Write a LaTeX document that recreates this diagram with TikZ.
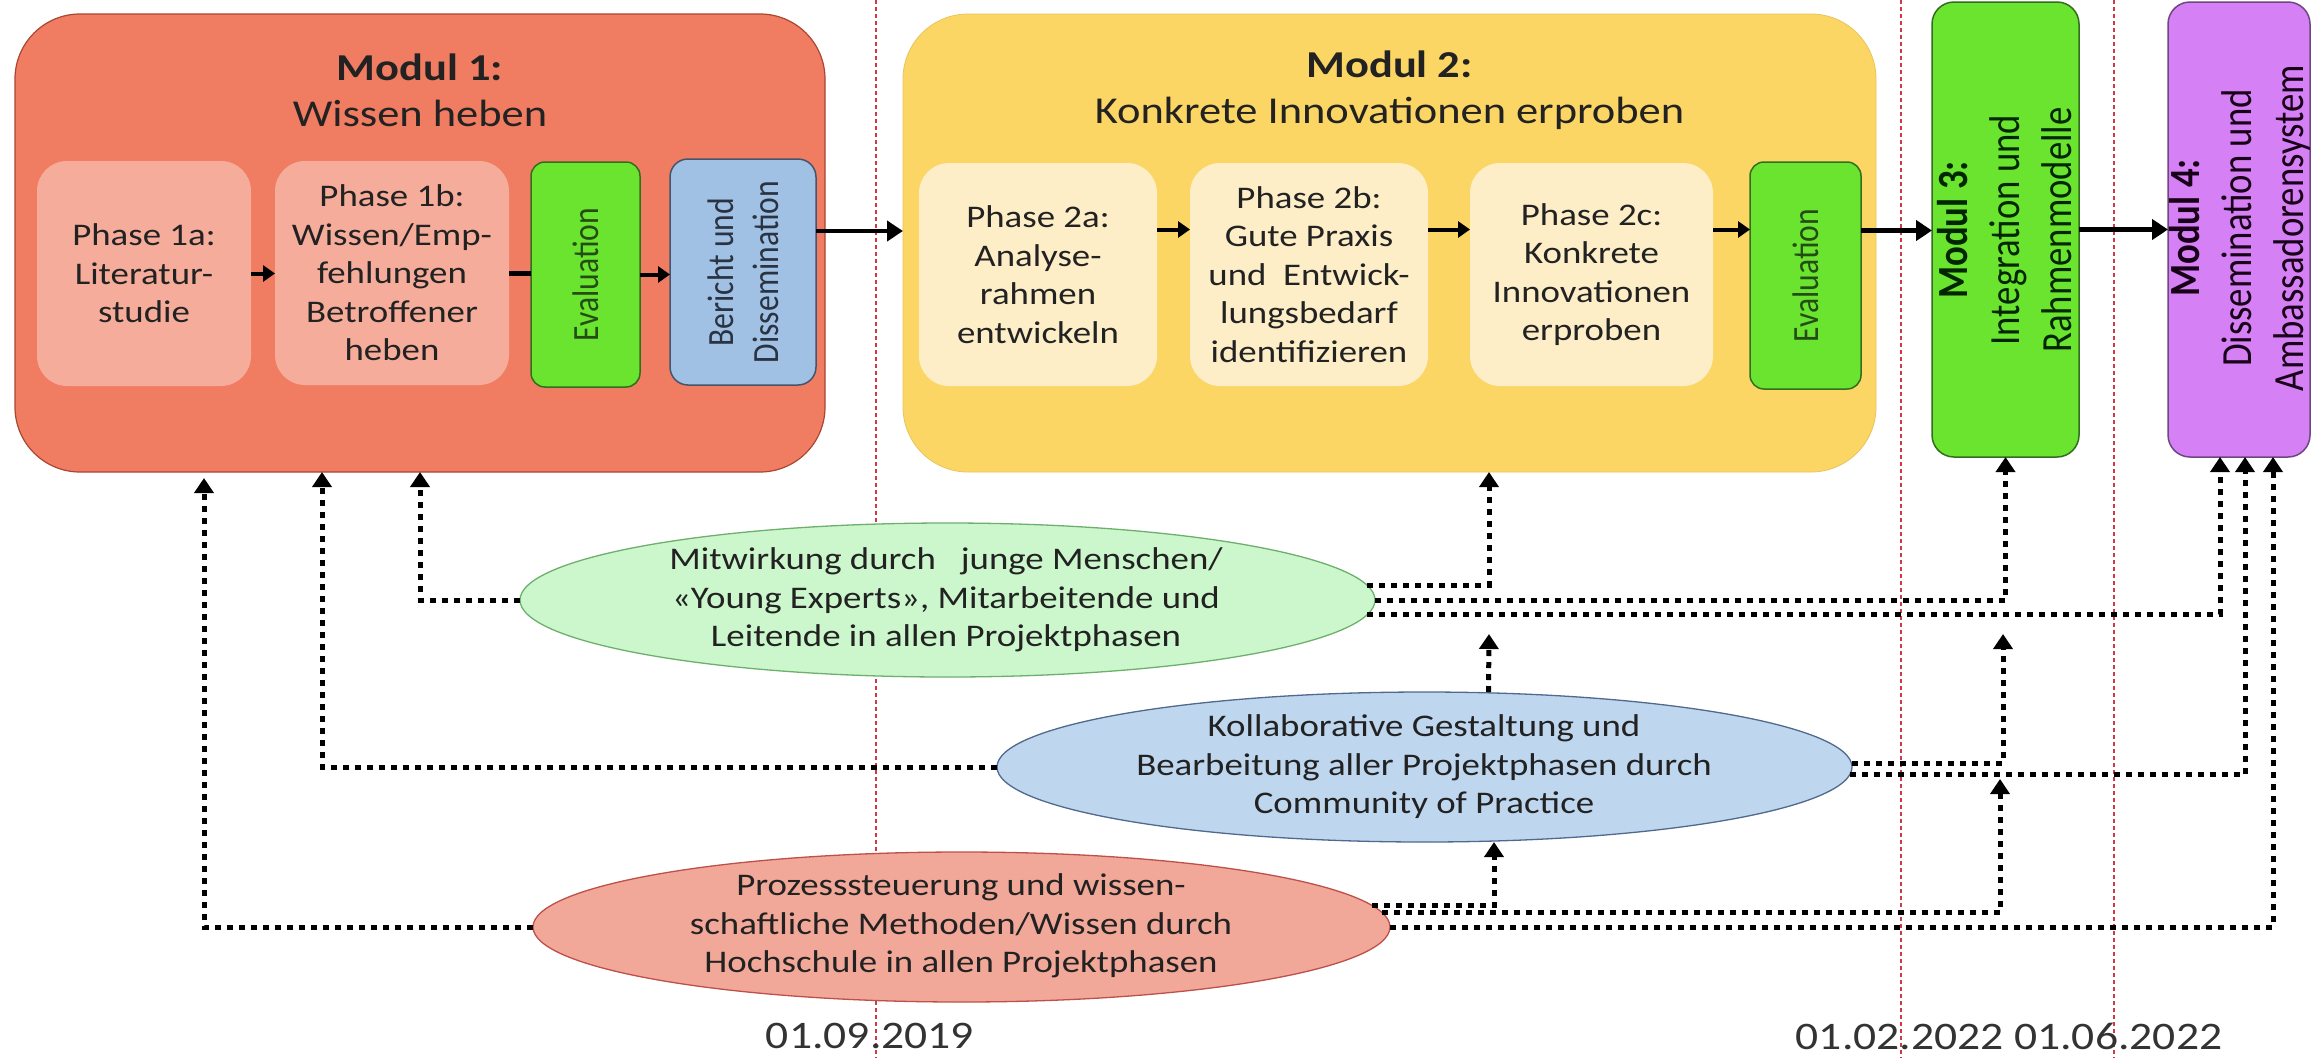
\documentclass[tikz,border=0pt]{standalone}
\usepackage{fontspec}
\setmainfont{Carlito}[FakeStretch=1.17]
\newfontfamily\rotfont{Carlito}[FakeStretch=0.855]
\usetikzlibrary{arrows.meta,shapes.geometric}
\definecolor{mfill}{RGB}{240,124,98}
\definecolor{mdraw}{RGB}{170,70,50}
\definecolor{phone}{RGB}{245,172,155}
\definecolor{evfill}{RGB}{106,228,46}
\definecolor{evdraw}{RGB}{50,110,30}
\definecolor{berfill}{RGB}{160,192,228}
\definecolor{berdraw}{RGB}{70,85,110}
\definecolor{mtwofill}{RGB}{252,214,100}
\definecolor{phtwo}{RGB}{253,238,200}
\definecolor{mfourfill}{RGB}{214,128,246}
\definecolor{mfourdraw}{RGB}{110,70,130}
\definecolor{gfill}{RGB}{204,247,204}
\definecolor{gdraw}{RGB}{110,175,110}
\definecolor{bfill}{RGB}{190,214,238}
\definecolor{bdraw}{RGB}{80,105,140}
\definecolor{rfill}{RGB}{242,168,152}
\definecolor{rdraw}{RGB}{190,80,75}
\definecolor{dline}{RGB}{205,60,70}
\definecolor{txt}{RGB}{34,34,34}
\newcommand\fphase{\fontsize{31.5pt}{38.5pt}\selectfont}
\newcommand\ftitle{\fontsize{38pt}{46pt}\selectfont}
\newcommand\fdate{\fontsize{39pt}{46pt}\selectfont}
\newcommand\frot{\rotfont\fontsize{37pt}{45pt}\selectfont}
\newcommand\frotbig{\rotfont\fontsize{43pt}{52pt}\selectfont}
\begin{document}
\begin{tikzpicture}[x=1pt,y=-1pt,
  box/.style={rectangle,inner sep=0pt,outer sep=0pt},
  ell/.style={ellipse,inner sep=0pt,outer sep=0pt,line width=1.3pt},
  tx/.style={align=center,text=txt,inner sep=0pt,font=\fphase},
  marr/.style={line width=4.5pt,-{Triangle[length=16pt,width=20pt]}},
  sarr/.style={line width=4pt,-{Triangle[length=12pt,width=16pt]}},
  dots/.style={line width=5pt,dash pattern=on 6pt off 6pt,-{Triangle[length=15pt,width=19pt]}},
  vline/.style={draw=dline,line width=1.2pt,dash pattern=on 4pt off 3pt}]
\useasboundingbox (0,0) rectangle (2312,1058);
\fill[white] (0,0) rectangle (2312,1058);
% time lines
\draw[vline] (876,0) -- (876,1058);
\draw[vline] (1901,0) -- (1901,1058);
\draw[vline] (2114,0) -- (2114,1058);
% modules
\node[box,draw=mdraw,line width=1.2pt,fill=mfill,rounded corners=65pt,minimum width=810pt,minimum height=458pt] (m1) at (420,243) {};
\node[box,draw=mtwofill!92!black,line width=0.8pt,fill=mtwofill,rounded corners=65pt,minimum width=973pt,minimum height=458pt] (m2) at (1389.5,243) {};
\node[box,draw=evdraw,line width=1.5pt,fill=evfill,rounded corners=22pt,minimum width=147pt,minimum height=455pt] (m3) at (2005.5,229.5) {};
\node[box,draw=mfourdraw,line width=1.5pt,fill=mfourfill,rounded corners=22pt,minimum width=142pt,minimum height=455pt] (m4) at (2239,229.5) {};
% titles
\node[tx,font=\ftitle] (t1) at (420,90) {\textbf{Modul 1:}\\Wissen heben};
\node[tx,font=\ftitle] (t2) at (1389.5,90) {\textbf{Modul 2:}\\Konkrete Innovationen erproben};
% module 1 phases
\node[box,fill=phone,rounded corners=30pt,minimum width=214pt,minimum height=225pt,tx] (p1a) at (144,273.5) {Phase 1a:\\Literatur-\\studie};
\node[box,fill=phone,rounded corners=30pt,minimum width=234pt,minimum height=224pt,tx] (p1b) at (392,273) {Phase 1b:\\Wissen/Emp-\\fehlungen\\Betroffener\\heben};
\node[box,draw=evdraw,line width=1.5pt,fill=evfill,rounded corners=14pt,minimum width=109pt,minimum height=225pt] (e1) at (585.5,274.5) {};
\node[tx,rotate=90,font=\frot,text=evdraw!70!black] (e1t) at (585.5,274.5) {Evaluation};
\node[box,draw=berdraw,line width=1.5pt,fill=berfill,rounded corners=18pt,minimum width=146pt,minimum height=226pt] (ber) at (743,272) {};
\node[tx,rotate=90,font=\frot,text=berdraw!60!black] (bert) at (743.5,272) {Bericht und\\Dissemination};
% module 2 phases
\node[box,fill=phtwo,rounded corners=30pt,minimum width=238pt,minimum height=223pt,tx] (p2a) at (1038,274.5) {Phase 2a:\\Analyse-\\rahmen\\entwickeln};
\node[box,fill=phtwo,rounded corners=30pt,minimum width=238pt,minimum height=223pt,tx] (p2b) at (1309,274.5) {Phase 2b:\\Gute Praxis\\und\ \ Entwick-\\lungsbedarf\\identifizieren};
\node[box,fill=phtwo,rounded corners=30pt,minimum width=243pt,minimum height=223pt,tx] (p2c) at (1591.5,274.5) {Phase 2c:\\Konkrete\\Innovationen\\erproben};
\node[box,draw=evdraw,line width=1.5pt,fill=evfill,rounded corners=14pt,minimum width=111pt,minimum height=227pt] (e2) at (1805.5,275.5) {};
\node[tx,rotate=90,font=\frot,text=evdraw!70!black] (e2t) at (1806,275.5) {Evaluation};
% module 3 and 4 texts
\node[tx,rotate=90,font=\frotbig,text=black!85!green] (m3t) at (2005,230) {\textbf{Modul 3:}\\Integration und\\Rahmenmodelle};
\node[tx,rotate=90,font=\frotbig,text=black!80!violet] (m4t) at (2240,228) {\textbf{Modul 4:}\\Dissemination und\\Ambassadorensystem};
% flow arrows
\draw[sarr] (p1a.east) -- (p1a.east -| p1b.west);
\draw[line width=5pt] (p1b.east) -- (p1b.east -| e1.west);
\draw[sarr] (e1.east) -- (e1.east -| ber.west);
\draw[marr] ([yshift=41pt]ber.east) -- ([yshift=41pt]ber.east -| m2.west);
\draw[sarr] ([yshift=45pt]p2a.east) -- ([yshift=45pt]p2a.east -| p2b.west);
\draw[sarr] ([yshift=45pt]p2b.east) -- ([yshift=45pt]p2b.east -| p2c.west);
\draw[sarr] ([yshift=45pt]p2c.east) -- ([yshift=45pt]p2c.east -| e2.west);
\draw[marr] ([yshift=45pt]e2.east) -- ([yshift=45pt]e2.east -| m3.west);
\draw[marr] (m3.east) -- (m3.east -| m4.west);
% ellipses
\node[ell,draw=gdraw,fill=gfill,minimum width=855pt,minimum height=154pt] (gr) at (947.5,600) {};
\node[ell,draw=bdraw,fill=bfill,minimum width=855pt,minimum height=150pt] (bl) at (1424.5,767) {};
\node[ell,draw=rdraw,fill=rfill,minimum width=857pt,minimum height=150pt] (rd) at (961.5,927) {};
\node[tx] (grt) at (946,600) {Mitwirkung durch\ \ \ junge Menschen/\\«Young Experts», Mitarbeitende und\\Leitende in allen Projektphasen};
\node[tx] (blt) at (1424,767) {Kollaborative Gestaltung und\\Bearbeitung aller Projektphasen\ durch\\Community\ of Practice};
\node[tx] (rdt) at (961,926) {Prozesssteuerung und\ wissen-\\schaftliche Methoden/Wissen durch\\Hochschule in allen Projektphasen};
% dates
\node[tx,font=\fdate,text=black!80] (d1) at (870,1036) {01.09.2019};
\node[tx,font=\fdate,text=black!80] (d2) at (2009,1036) {01.02.2022 01.06.2022};
% free ends
\coordinate (bend) at (1489,634);
\coordinate (bbend) at (2003,634);
\coordinate (rrend) at (2000,779);
% dotted connectors to module 1
\draw[dots] (gr.west) -| (m1.south);
\draw[dots] (bl.west) -| ([xshift=-98pt]m1.south);
\draw[dots] (rd.west) -| ([xshift=-216pt,yshift=-6pt]m1.south);
% green to the right
\draw[dots] (gr.2) -| ([xshift=99.5pt]m2.south);
\draw[dots] (gr.east) -| (m3.south);
\draw[dots] (gr.-2) -| ([xshift=-19pt]m4.south);
% blue
\draw[dots] ([xshift=64pt]bl.north) -- (bend);
\draw[dots] ([yshift=4pt]bl.east) -| (bbend);
\draw[dots] (bl.-1) -| ([xshift=6pt]m4.south);
% red
\draw[dots] (rd.3) -| ([xshift=69.5pt]bl.south);
\draw[dots] (rd.2) -| (rrend);
\draw[dots] (rd.east) -| ([xshift=34pt]m4.south);
\end{tikzpicture}
\end{document}
